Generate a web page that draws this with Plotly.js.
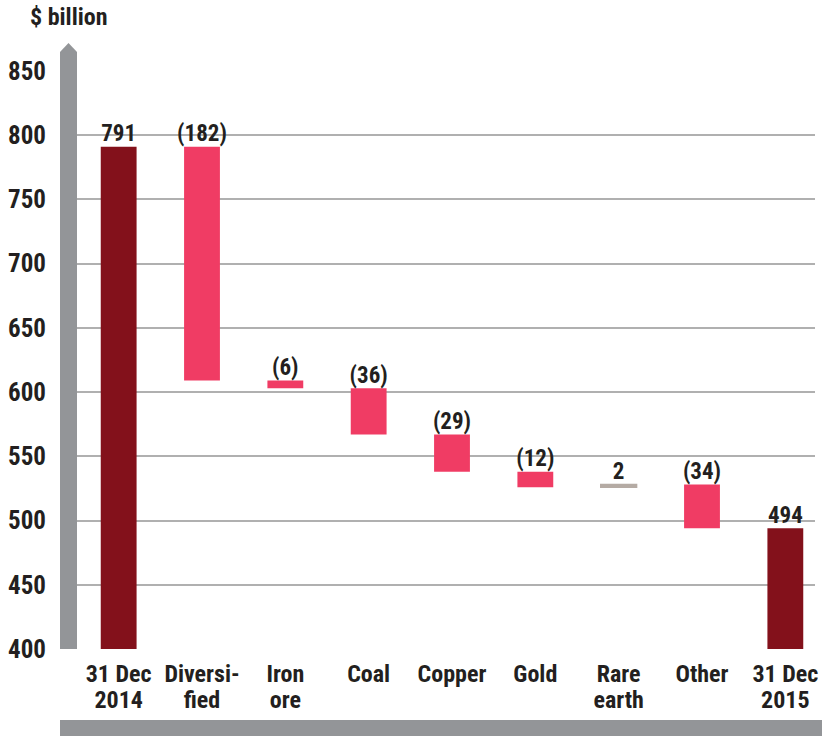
<!DOCTYPE html>
<html>
<head>
<meta charset="utf-8">
<script src="https://cdn.plot.ly/plotly-3.0.1.min.js"></script>
<style>html,body{margin:0;padding:0;background:#fff;} #chart{width:822px;height:736px;}</style>
</head>
<body>
<div id="chart"></div>
<script>
// ---- data ----
var categories = ["31 Dec 2014", "Diversified", "Iron ore", "Coal", "Copper", "Gold", "Rare earth", "Other", "31 Dec 2015"];
var tickLine1 = ["31 Dec", "Diversi-", "Iron", "Coal", "Copper", "Gold", "Rare", "Other", "31 Dec"];
var tickLine2 = ["2014", "fied", "ore", "", "", "", "earth", "", "2015"];
var values = [791, -182, -6, -36, -29, -12, 2, -34, 494];
var measures = ["absolute", "relative", "relative", "relative", "relative", "relative", "relative", "relative", "total"];
var valueLabels = ["791", "(182)", "(6)", "(36)", "(29)", "(12)", "2", "(34)", "494"];
var yTickVals = [400, 450, 500, 550, 600, 650, 700, 750, 800, 850];

// ---- layout geometry (pixels) ----
var W = 822, H = 736;
var L = 77, R = 7, T = 71, B = 87;
var plotW = W - L - R, plotH = H - T - B;
function px(x) { return (x - L) / plotW; }
function py(y) { return (H - B - y) / plotH; }

var FONT = "Roboto Condensed, Roboto, Liberation Sans Narrow, sans-serif";
var TXT = "#231f20";
var XRANGE = [-0.5, 8.356];

// top of each bar for label placement (derived from the data)
var tops = [];
var run = 0;
for (var i = 0; i < values.length; i++) {
  if (measures[i] === "absolute") { run = values[i]; tops.push(run); }
  else if (measures[i] === "total") { tops.push(run); }
  else { var prev = run; run += values[i]; tops.push(Math.max(prev, run)); }
}
var idx = categories.map(function (c, i) { return i; });

var waterfall = {
  type: "waterfall",
  x: categories,
  y: values,
  measure: measures,
  connector: { visible: false },
  decreasing: { marker: { color: "#f03c64" } },
  increasing: { marker: { color: "#b5aba4", line: { color: "#b5aba4", width: 1.5 } } },
  totals: { marker: { color: "#83111b" } },
  hoverinfo: "skip",
  showlegend: false
};

var labels = {
  type: "scatter",
  mode: "text",
  x: categories,
  y: tops,
  text: valueLabels.map(function (t) { return "<b>" + t + "</b>"; }),
  textposition: "top center",
  textfont: { family: FONT, size: 23, color: TXT },
  cliponaxis: false,
  hoverinfo: "skip",
  showlegend: false
};

var shapes = [
  {
    type: "path", xref: "paper", yref: "paper", layer: "above",
    path: "M " + px(60) + " " + py(649) +
          " L " + px(60) + " " + py(52) +
          " L " + px(68.5) + " " + py(43) +
          " L " + px(77) + " " + py(52) +
          " L " + px(77) + " " + py(649) + " Z",
    fillcolor: "#939598", line: { width: 0 }
  },
  {
    type: "rect", xref: "paper", yref: "paper", layer: "above",
    x0: px(60), x1: px(822), y0: py(736), y1: py(720),
    fillcolor: "#939598", line: { width: 0 }
  }
];

var tickFontX = { family: FONT, size: 24, color: TXT, weight: "bold" };

var layout = {
  width: W, height: H,
  margin: { l: L, r: R, t: T, b: B, pad: 0 },
  paper_bgcolor: "#ffffff",
  plot_bgcolor: "#ffffff",
  font: { family: FONT, color: TXT },
  title: {
    text: "<b>$ billion</b>",
    font: { family: FONT, size: 24, color: TXT },
    x: 30 / W, xanchor: "left",
    y: 1 - 8 / H, yanchor: "top"
  },
  waterfallgap: 0.57,
  xaxis: {
    type: "category",
    range: XRANGE,
    showgrid: false, zeroline: false, showline: false,
    ticks: "", ticklabelstandoff: 8,
    tickvals: idx, ticktext: tickLine1,
    tickfont: tickFontX,
    fixedrange: true
  },
  xaxis2: {
    type: "linear",
    overlaying: "x", anchor: "y", side: "bottom",
    range: XRANGE,
    showgrid: false, zeroline: false, showline: false,
    ticks: "", ticklabelstandoff: 34,
    tickvals: idx, ticktext: tickLine2,
    tickfont: tickFontX,
    fixedrange: true
  },
  yaxis: {
    range: [400, 850],
    tickvals: yTickVals,
    ticktext: yTickVals.map(String),
    showgrid: true, gridcolor: "#b0b0b0", gridwidth: 2,
    zeroline: false, showline: false,
    ticks: "", ticklabelstandoff: 30,
    tickfont: { family: FONT, size: 25, color: TXT, weight: "bold" },
    fixedrange: true
  },
  shapes: shapes
};

var anchorTrace = {
  type: "scatter", mode: "markers", x: [0], y: [400], xaxis: "x2", yaxis: "y",
  marker: { opacity: 0, size: 1 }, hoverinfo: "skip", showlegend: false
};

Plotly.newPlot("chart", [waterfall, labels, anchorTrace], layout, { displayModeBar: false, staticPlot: true });
</script>
</body>
</html>
